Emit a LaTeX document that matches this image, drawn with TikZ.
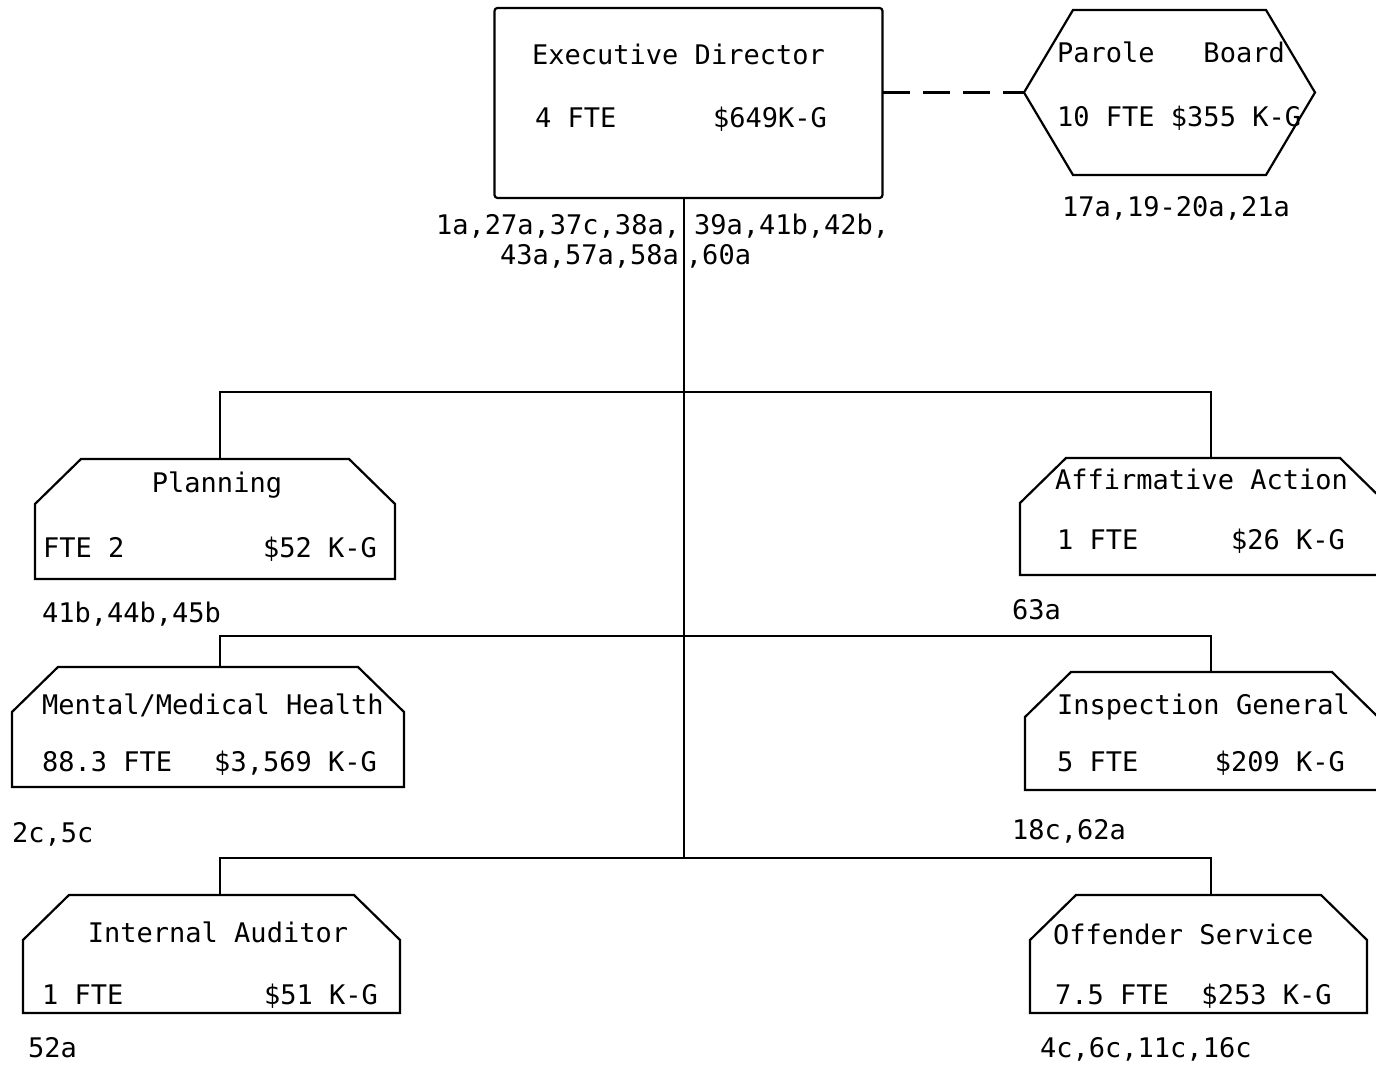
\documentclass[tikz,border=0pt]{standalone}
\usepackage{fontspec}
\setmonofont{DejaVu Sans Mono}
\tikzset{
  orgline/.style={line width=2.2pt},
  unit/.style={inner sep=0pt, outer sep=0pt},
  lbl/.style={inner sep=0pt, font=\ttfamily\fontsize{27}{32}\selectfont}
}
\begin{document}
\begin{tikzpicture}[x=1pt,y=1pt]
\clip (0,0) rectangle (1376,1075);
\node[unit, minimum width=388pt, minimum height=190pt] (exec) at (688.5,972) {};
\node[unit, minimum width=291pt, minimum height=165pt] (parole) at (1169.5,982.5) {};
\node[unit, minimum width=360pt, minimum height=120pt] (plan) at (215,556) {};
\node[unit, minimum width=366pt, minimum height=117pt] (affirm) at (1203,558.5) {};
\node[unit, minimum width=392pt, minimum height=120pt] (mental) at (208,348) {};
\node[unit, minimum width=353pt, minimum height=118pt] (insp) at (1201.5,344) {};
\node[unit, minimum width=377pt, minimum height=118pt] (audit) at (211.5,121) {};
\node[unit, minimum width=337pt, minimum height=118pt] (offend) at (1198.5,121) {};

\draw[orgline, rounded corners=3pt] (exec.south west) rectangle (exec.north east);
\draw[orgline] (parole.west) -- ([xshift=49pt]parole.north west) -- ([xshift=-49pt]parole.north east) -- (parole.east) -- ([xshift=-49pt]parole.south east) -- ([xshift=49pt]parole.south west) -- cycle;
\foreach \n in {plan,affirm,mental,insp,audit,offend}
  \draw[orgline] (\n.south west) -- ([yshift=-45pt]\n.north west) -- ([xshift=46pt]\n.north west) -- ([xshift=-46pt]\n.north east) -- ([yshift=-45pt]\n.north east) -- (\n.south east) -- cycle;

\coordinate (bus1) at (684,683);
\coordinate (bus2) at (684,439);
\coordinate (bus3) at (684,217);
\coordinate (L) at (220,0);
\coordinate (R) at (1211,0);
\draw[orgline, dash pattern=on 27pt off 13pt] (parole.west -| exec.east) -- (parole.west);
\draw[orgline] (exec.south -| bus1) -- (bus3);
\draw[orgline] (plan.north -| L) |- (bus1) -| (affirm.north -| R);
\draw[orgline] (mental.north -| L) |- (bus2) -| (insp.north -| R);
\draw[orgline] (audit.north -| L) |- (bus3) -| (offend.north -| R);

\node[lbl, anchor=base west] (exec-t) at (532,1010) {Executive Director};
\node[lbl, anchor=base west] (exec-f) at (535,947) {4 FTE};
\node[lbl, anchor=base east] (exec-g) at (827,947) {\$649K-G};
\node[lbl, anchor=base west] (exec-r1) at (436,840) {1a,27a,37c,38a,\hspace{14pt}39a,41b,42b,};
\node[lbl, anchor=base west] (exec-r2) at (500,810) {43a,57a,58a\hspace{7pt},60a};

\node[lbl, anchor=base west] (parole-t) at (1057,1012) {Parole\ \ \ Board};
\node[lbl, anchor=base west] (parole-f) at (1057,948) {10 FTE \$355 K-G};
\node[lbl, anchor=base west] (parole-r) at (1062,858) {17a,19-20a,21a};

\node[lbl, anchor=base] (plan-t) at (217,582) {Planning};
\node[lbl, anchor=base west] (plan-f) at (43,517) {FTE 2};
\node[lbl, anchor=base east] (plan-g) at (377,517) {\$52 K-G};
\node[lbl, anchor=base west] (plan-r) at (42,452) {41b,44b,45b};

\node[lbl, anchor=base west] (affirm-t) at (1055,585) {Affirmative Action};
\node[lbl, anchor=base west] (affirm-f) at (1057,525) {1 FTE};
\node[lbl, anchor=base east] (affirm-g) at (1345,525) {\$26 K-G};
\node[lbl, anchor=base west] (affirm-r) at (1012,455) {63a};

\node[lbl, anchor=base west] (mental-t) at (42,360) {Mental/Medical Health};
\node[lbl, anchor=base west] (mental-f) at (42,303) {88.3 FTE};
\node[lbl, anchor=base east] (mental-g) at (377,303) {\$3,569 K-G};
\node[lbl, anchor=base west] (mental-r) at (12,232) {2c,5c};

\node[lbl, anchor=base west] (insp-t) at (1057,360) {Inspection General};
\node[lbl, anchor=base west] (insp-f) at (1057,303) {5 FTE};
\node[lbl, anchor=base east] (insp-g) at (1345,303) {\$209 K-G};
\node[lbl, anchor=base west] (insp-r) at (1012,235) {18c,62a};

\node[lbl, anchor=base] (audit-t) at (218,132) {Internal Auditor};
\node[lbl, anchor=base west] (audit-f) at (42,70) {1 FTE};
\node[lbl, anchor=base east] (audit-g) at (378,70) {\$51 K-G};
\node[lbl, anchor=base west] (audit-r) at (28,17) {52a};

\node[lbl, anchor=base west] (offend-t) at (1053,130) {Offender Service};
\node[lbl, anchor=base west] (offend-f) at (1055,70) {7.5 FTE\ \ \$253 K-G};
\node[lbl, anchor=base west] (offend-r) at (1040,17) {4c,6c,11c,16c};
\end{tikzpicture}
\end{document}
